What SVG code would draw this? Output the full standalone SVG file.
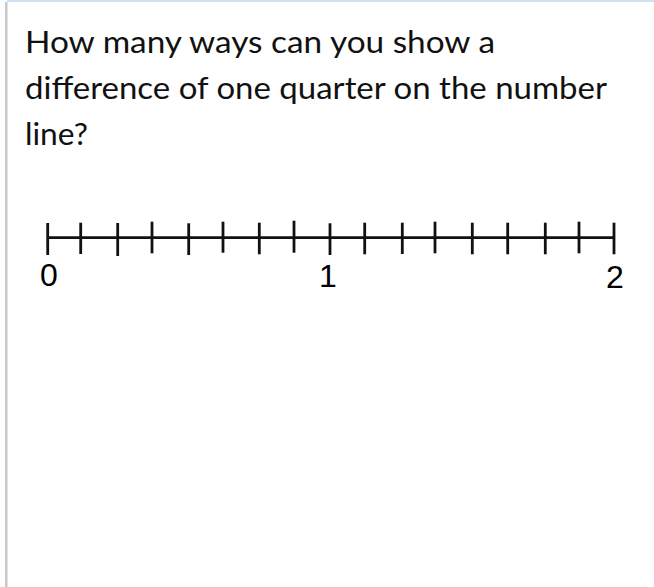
<svg xmlns="http://www.w3.org/2000/svg" width="654" height="587" viewBox="0 0 654 587">
<style>
.q{font-family:Lato,"Open Sans","Noto Sans",sans-serif;font-size:30.5px;fill:#111}
.n{font-family:"Liberation Sans",Arial,sans-serif;font-size:32px;fill:#000;text-anchor:middle}
.t{stroke:#111;stroke-width:2.8;stroke-linecap:butt}
</style>
<rect x="0" y="0" width="654" height="587" fill="#fff"/>
<rect x="7" y="0" width="647" height="2" fill="#cfe2f3"/>
<rect x="5" y="2" width="2.5" height="585" fill="#c8c8c8"/>
<g id="question">
<text class="q" x="25" y="53" textLength="470" lengthAdjust="spacingAndGlyphs">How many ways can you show a</text>
<text class="q" x="25" y="99" textLength="582" lengthAdjust="spacingAndGlyphs">difference of one quarter on the number</text>
<text class="q" x="25" y="145" textLength="63" lengthAdjust="spacingAndGlyphs">line?</text>
</g>
<g id="number-line">
<line class="t" x1="47.7" y1="237.7" x2="614" y2="237.7"/>
<line class="t" x1="47.7" y1="223" x2="47.7" y2="255"/>
<line class="t" x1="80.7" y1="222.7" x2="80.7" y2="254"/>
<line class="t" x1="117.7" y1="223" x2="117.7" y2="256"/>
<line class="t" x1="152" y1="221.7" x2="152" y2="253.3"/>
<line class="t" x1="188.7" y1="223.3" x2="188.7" y2="255"/>
<line class="t" x1="223" y1="221.7" x2="223" y2="252.7"/>
<line class="t" x1="259.3" y1="222.7" x2="259.3" y2="254.3"/>
<line class="t" x1="294" y1="220.7" x2="294" y2="252.7"/>
<line class="t" x1="330" y1="223.3" x2="330" y2="255"/>
<line class="t" x1="364.7" y1="222.7" x2="364.7" y2="254.3"/>
<line class="t" x1="402.3" y1="222.7" x2="402.3" y2="254"/>
<line class="t" x1="435" y1="221.7" x2="435" y2="253.3"/>
<line class="t" x1="472.3" y1="222.7" x2="472.3" y2="254.3"/>
<line class="t" x1="507.7" y1="222.7" x2="507.7" y2="254.3"/>
<line class="t" x1="545.3" y1="222.7" x2="545.3" y2="254.3"/>
<line class="t" x1="579" y1="221.7" x2="579" y2="253.3"/>
<line class="t" x1="614" y1="222.7" x2="614" y2="254.3"/>
</g>
<g id="labels">
<text class="n" x="49" y="286">0</text>
<text class="n" x="328" y="287">1</text>
<text class="n" x="615" y="288">2</text>
</g>
</svg>
